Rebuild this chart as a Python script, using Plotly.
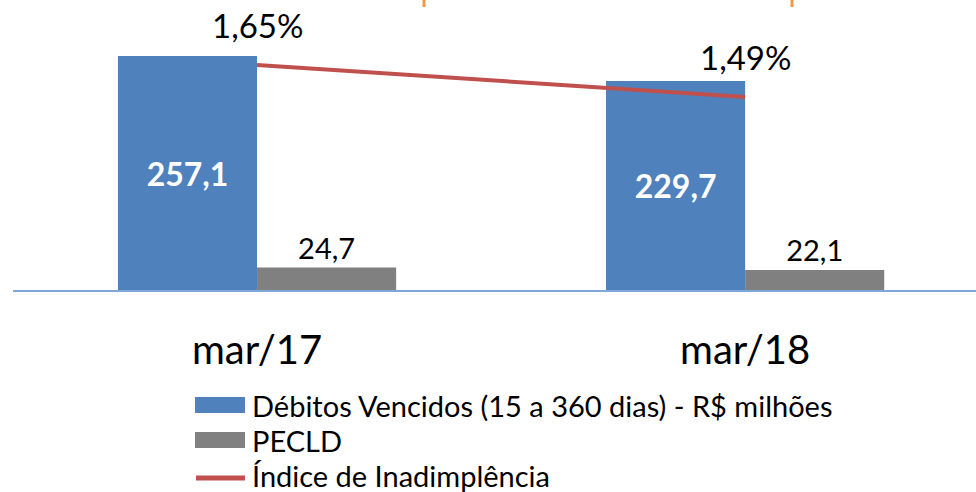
import plotly.graph_objects as go

categories = ["mar/17", "mar/18"]
debitos = [257.1, 229.7]
pecld = [24.7, 22.1]
indice = [1.65, 1.49]
debitos_labels = ["257,1", "229,7"]
pecld_labels = ["24,7", "22,1"]
indice_labels = ["1,65%", "1,49%"]
legend_names = ["Débitos Vencidos (15 a 360 dias) - R$ milhões", "PECLD", "Índice de Inadimplência"]

BLUE = "#4F81BD"
GRAY = "#808080"
RED = "#C0504D"
FONT = "Lato, 'Open Sans', sans-serif"

fig = go.Figure()
fig.add_trace(go.Bar(
    x=categories, y=debitos, name=legend_names[0], marker_color=BLUE,
    marker_line_width=0, text=debitos_labels, textposition="inside",
    insidetextanchor="middle",
    textfont=dict(family=FONT, size=32, color="white", weight="bold"),
    showlegend=False,
))
fig.add_trace(go.Bar(
    x=categories, y=pecld, name=legend_names[1], marker_color=GRAY,
    marker_line_width=0, text=pecld_labels, textposition="outside",
    textfont=dict(family=FONT, size=29, color="black"),
    cliponaxis=False, showlegend=False,
))
fig.add_trace(go.Scatter(
    x=categories, y=indice, name=legend_names[2], mode="lines",
    line=dict(color=RED, width=4), yaxis="y2", showlegend=False,
))

for c, v, t in zip(categories, indice, indice_labels):
    fig.add_annotation(x=c, y=v, yref="y2", text=t, showarrow=False,
                       yshift=40, font=dict(family=FONT, size=33, color="black"))

# custom legend
leg_y = [405, 440, 475]
def py(p):
    return 1 - p / 290.0  # paper coordinate from pixel y (plot area 0..290)

for i, name in enumerate(legend_names):
    yc = leg_y[i]
    if i < 2:
        fig.add_shape(type="rect", xref="paper", yref="paper",
                      x0=(195 - 13) / 963.0, x1=(245 - 13) / 963.0,
                      y0=py(yc + 8), y1=py(yc - 8),
                      fillcolor=[BLUE, GRAY][i], line_width=0)
    else:
        fig.add_shape(type="line", xref="paper", yref="paper",
                      x0=(196 - 13) / 963.0, x1=(245 - 13) / 963.0,
                      y0=py(yc + 3), y1=py(yc + 3),
                      line=dict(color=RED, width=5))
    fig.add_annotation(xref="paper", yref="paper", x=(250 - 13) / 963.0, y=py(yc),
                       text=name, showarrow=False, xanchor="left", yanchor="middle",
                       font=dict(family=FONT, size=29, color="black"))

# cut-off title remnants
for xp in [424, 792]:
    fig.add_shape(type="line", xref="paper", yref="paper",
                  x0=(xp - 13) / 963.0, x1=(xp - 13) / 963.0,
                  y0=1.0, y1=py(7), line=dict(color="#F79646", width=3))

fig.update_layout(
    width=976, height=492,
    margin=dict(l=13, r=0, t=0, b=202),
    paper_bgcolor="white", plot_bgcolor="white",
    barmode="group", bargap=0.43, bargroupgap=0,
    xaxis=dict(type="category", range=[-0.5, 1.473], showgrid=False,
               showline=True, linecolor="#7FA7D8", linewidth=2,
               ticks="", tickfont=dict(family=FONT, size=40, color="black"),
               ticklabelstandoff=24),
    yaxis=dict(range=[0, 318.7], visible=False, showgrid=False),
    yaxis2=dict(range=[0.525, 1.975], overlaying="y", visible=False, showgrid=False),
    showlegend=False,
)

fig.write_html("out.html", config={"displayModeBar": False},
               post_script="document.body.style.margin='0';document.body.style.overflow='hidden';")
